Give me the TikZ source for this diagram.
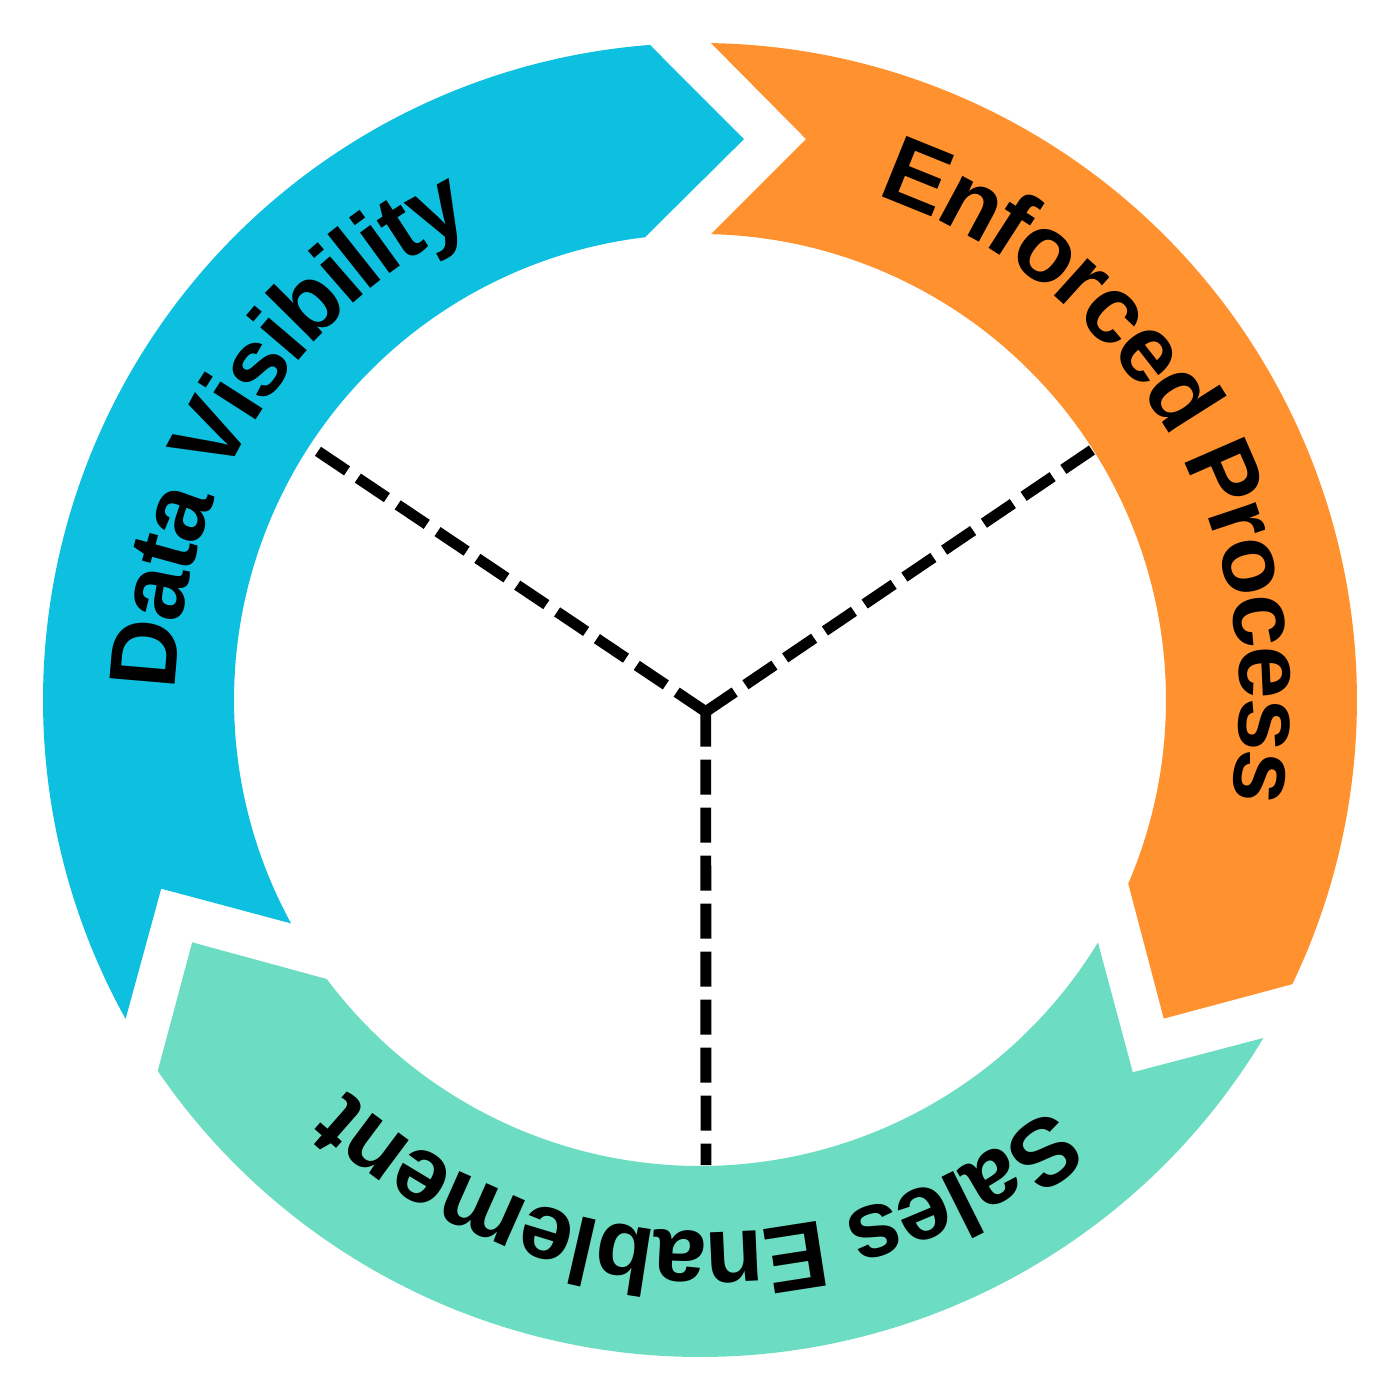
\documentclass[tikz,border=0pt]{standalone}
\usepackage{fontspec}
\setmainfont{Liberation Sans}
\usepackage{xcolor}
\usepackage{tikz}
\usetikzlibrary{decorations.text}

\definecolor{visblue}{HTML}{0EC0E0}
\definecolor{procorange}{HTML}{FF922E}
\definecolor{salesgreen}{HTML}{6CDDC2}
\newcommand{\labelfont}{\fontsize{27}{31}\selectfont\bfseries\kern-0.8pt}

\begin{document}
\begin{tikzpicture}[
    % Styles
    segment/.style={draw=none},
    arclabel/.style={decorate, decoration={text along path, text align=center}},
    spoke/.style={line width=3.1pt, dash pattern=on 0.35cm off 0.13cm}
]
\useasboundingbox (-7,-7) rectangle (7,7);

% ------------------- ENFORCED PROCESS -------------------
\fill[segment, procorange] (89.04:6.57) arc[start angle=89.04, end angle=-25.63, radius=6.57]
    -- (-34.49:5.627) -- (-23.22:4.66) arc[start angle=-23.22, end angle=88.65, radius=4.66]
    -- (79.30:5.709) -- cycle;

% ------------------- DATA VISIBILITY -------------------
\fill[segment, visblue, rotate=120] (89.04:6.57) arc[start angle=89.04, end angle=-25.63, radius=6.57]
    -- (-34.49:5.627) -- (-23.22:4.66) arc[start angle=-23.22, end angle=88.65, radius=4.66]
    -- (79.30:5.709) -- cycle;

% ------------------- SALES ENABLEMENT -------------------
\fill[segment, salesgreen, rotate=240] (89.04:6.57) arc[start angle=89.04, end angle=-25.63, radius=6.57]
    -- (-34.49:5.627) -- (-23.22:4.66) arc[start angle=-23.22, end angle=88.65, radius=4.66]
    -- (79.30:5.709) -- cycle;

% Labels along the ring
\begin{scope}[shift={(0.08,0)}]
\path[arclabel, decoration={text={|\labelfont|Data Visibility}}]
    (192.4:5.32) arc[start angle=192.4, end angle=102.4, radius=5.32];
\path[arclabel, decoration={text={|\labelfont|Enforced Process}}]
    (80.2:5.32) arc[start angle=80.2, end angle=-19.8, radius=5.32];
\path[arclabel, decoration={text={|\labelfont|Sales Enablement}}]
    (-41.5:5.32) arc[start angle=-41.5, end angle=-141.5, radius=5.32];
\end{scope}

% Hub and spokes
\coordinate (hub) at (0.057,-0.117);
\coordinate (ul) at (-3.84,2.50);
\coordinate (ur) at (3.92,2.50);
\coordinate (bt) at (0.06,-4.65);

\draw[spoke] (hub) -- (ul);
\draw[spoke] (hub) -- (ur);
\draw[spoke] (hub) -- (bt);

\end{tikzpicture}
\end{document}
